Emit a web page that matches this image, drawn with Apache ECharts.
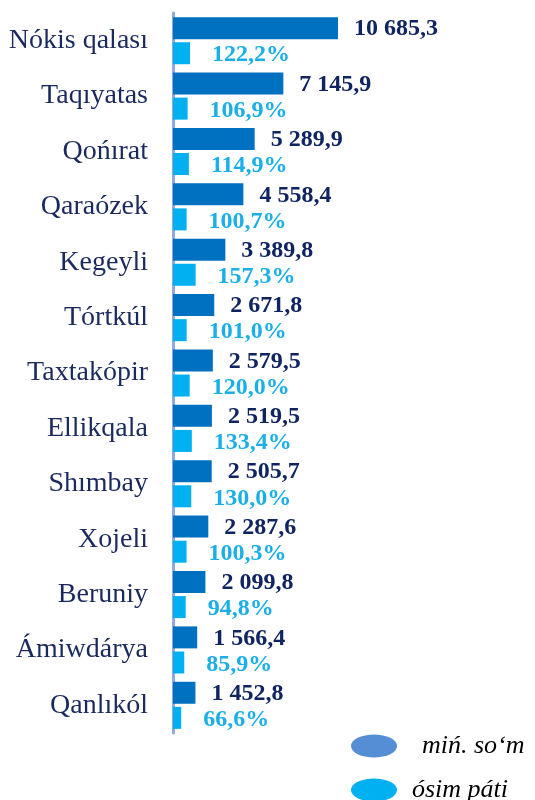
<!DOCTYPE html>
<html>
<head>
<meta charset="utf-8">
<script src="https://cdn.jsdelivr.net/npm/echarts@6/dist/echarts.min.js"></script>
<style>
  html, body { margin: 0; padding: 0; background: #fff; }
  #chart { width: 535px; height: 800px; }
</style>
</head>
<body>
<div id="chart"></div>
<script>
const districts = ['Nókis qalası', 'Taqıyatas', 'Qońırat', 'Qaraózek', 'Kegeyli', 'Tórtkúl', 'Taxtakópir',
  'Ellikqala', 'Shımbay', 'Xojeli', 'Beruniy', 'Ámiwdárya', 'Qanlıkól']
const volume = [10685.3, 7145.9, 5289.9, 4558.4, 3389.8, 2671.8, 2579.5, 2519.5, 2505.7, 2287.6, 2099.8, 1566.4, 1452.8]
const growth = [122.2, 106.9, 114.9, 100.7, 157.3, 101.0, 120.0, 133.4, 130.0, 100.3, 94.8, 85.9, 66.6]

const serif = '"Liberation Serif", "Times New Roman", serif'

// 10685.3 -> "10 685,3"
const fmtNum = (v) => {
  const [i, d] = v.toFixed(1).split('.')
  return i.replace(/\B(?=(\d{3})+(?!\d))/g, ' ') + ',' + d
}

const chart = echarts.init(document.getElementById('chart'))

const option = {
  animation: false,
  grid: { left: 173, right: 35, top: 13, bottom: 67 },
  legend: {
    orient: 'vertical',
    left: 351,
    top: 733,
    padding: 0,
    height: 80,
    itemWidth: 46,
    itemHeight: 23,
    itemGap: 18,
    symbolKeepAspect: false,
    icon: 'path://M0,50 A50,50 0 1,1 100,50 A50,50 0 1,1 0,50 Z',
    data: [
      { name: 'miń. so‘m', itemStyle: { color: '#558ED5' }, textStyle: { padding: [0, 0, 0, 20] } },
      { name: 'ósim páti', itemStyle: { color: '#00B0F0' }, textStyle: { padding: [0, 0, 0, 10] } }
    ],
    textStyle: { fontFamily: serif, fontStyle: 'italic', fontSize: 26, lineHeight: 23, color: '#000' }
  },
  xAxis: [
    { type: 'value', min: 0, max: 21178, show: false },
    { type: 'value', min: 15, max: 2072, show: false }
  ],
  yAxis: {
    type: 'category',
    data: districts,
    inverse: true,
    axisLine: { show: true, lineStyle: { color: '#8FAADC', width: 3 } },
    axisTick: { show: false },
    axisLabel: { fontFamily: serif, fontSize: 28, color: '#1B2A5E', margin: 25 }
  },
  series: [
    {
      name: 'miń. so‘m',
      type: 'bar',
      xAxisIndex: 0,
      data: volume,
      barWidth: 22,
      barGap: '14%',
      itemStyle: { color: '#0070C0' },
      label: {
        show: true,
        position: 'right',
        distance: 16,
        offset: [0, 1],
        fontFamily: serif,
        fontWeight: 'bold',
        fontSize: 24,
        color: '#0F2461',
        formatter: (p) => fmtNum(p.value)
      }
    },
    {
      name: 'ósim páti',
      type: 'bar',
      xAxisIndex: 1,
      data: growth,
      barWidth: 22,
      itemStyle: { color: '#00B0F0' },
      label: {
        show: true,
        position: 'right',
        distance: 22,
        offset: [0, 2],
        fontFamily: serif,
        fontWeight: 'bold',
        fontSize: 24,
        color: '#1AAFE6',
        formatter: (p) => fmtNum(p.value) + '%'
      }
    }
  ]
}

chart.setOption(option)
</script>
</body>
</html>
